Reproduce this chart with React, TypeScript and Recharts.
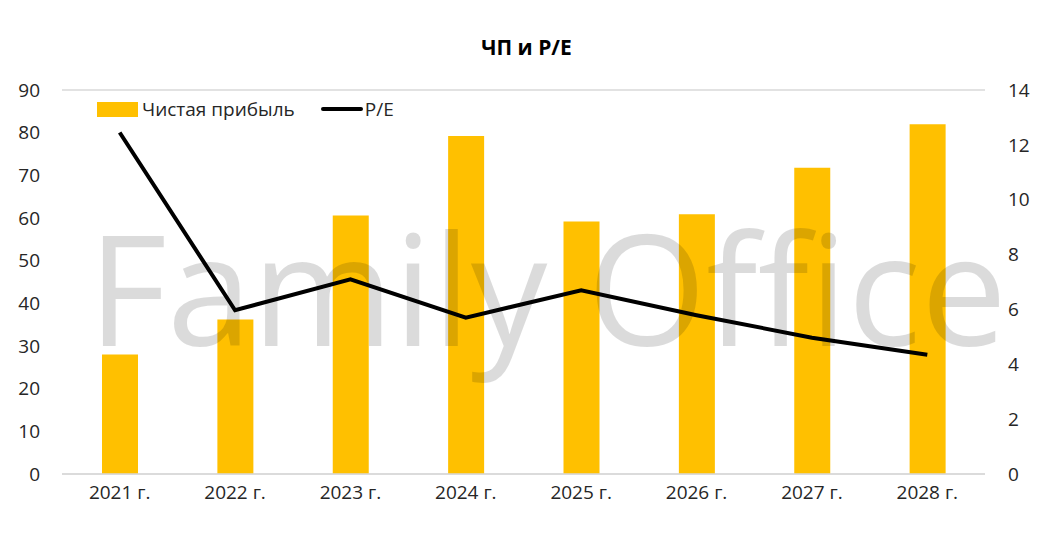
import React from "react";
import { ComposedChart, Bar, Line, XAxis, YAxis, CartesianGrid } from "recharts";

const years = ["2021 г.", "2022 г.", "2023 г.", "2024 г.", "2025 г.", "2026 г.", "2027 г.", "2028 г."];
const profit = [28.0, 36.2, 60.6, 79.2, 59.2, 60.9, 71.8, 82.0];
const pe = [12.45, 5.97, 7.1, 5.7, 6.7, 5.79, 4.97, 4.35];
const leftTicks = [0, 10, 20, 30, 40, 50, 60, 70, 80, 90];
const rightTicks = [0, 2, 4, 6, 8, 10, 12, 14];

const data = years.map((y, i) => ({ year: y, profit: profit[i], pe: pe[i] }));
const font = "'Open Sans', sans-serif";
const tick = { fontSize: 19, fill: "#262626", fontFamily: font };

export default function App() {
  return (
    <div style={{ position: "absolute", left: 0, top: 0, width: 1053, height: 533, background: "#fff" }}>
      <div style={{ position: "absolute", top: 33, width: 1053, textAlign: "center", fontFamily: font, fontWeight: 700, fontSize: 21, color: "#000" }}>
        ЧП и P/E
      </div>
      <ComposedChart width={1053} height={533} data={data} margin={{ top: 90, right: 0, left: 0, bottom: 0 }}>
        <CartesianGrid vertical={false} stroke="#d9d9d9" strokeWidth={1.5} />
        <XAxis dataKey="year" tick={tick} axisLine={{ stroke: "#d9d9d9", strokeWidth: 1.5 }} tickLine={false} tickMargin={6} height={59} />
        <YAxis yAxisId="l" domain={[0, 90]} ticks={leftTicks} width={62} tick={tick} axisLine={false} tickLine={false} tickMargin={16} interval={0} />
        <YAxis yAxisId="r" orientation="right" domain={[0, 14]} ticks={rightTicks} width={68} tick={tick} axisLine={false} tickLine={false} tickMargin={17} interval={0} />
        <Bar yAxisId="l" dataKey="profit" name="Чистая прибыль" fill="#FFC000" barSize={36} isAnimationActive={false} />
        <Line yAxisId="r" dataKey="pe" name="P/E" stroke="#000" strokeWidth={4} dot={false} type="linear" isAnimationActive={false} />
      </ComposedChart>
      <div style={{ position: "absolute", top: 96, left: 97, display: "flex", alignItems: "center", fontFamily: font, fontSize: 19, color: "#262626" }}>
        <span style={{ display: "inline-block", width: 41, height: 15, background: "#FFC000", marginRight: 4 }} />
        <span style={{ marginRight: 26 }}>Чистая прибыль</span>
        <span style={{ display: "inline-block", width: 42, height: 4, background: "#000", borderRadius: 2, marginRight: 2 }} />
        <span>P/E</span>
      </div>
      <div style={{ position: "absolute", left: 88, top: 210, fontFamily: font, fontSize: 153, lineHeight: "153px", color: "rgba(0,0,0,0.14)", pointerEvents: "none", whiteSpace: "nowrap" }}>
        Family Office
      </div>
    </div>
  );
}
